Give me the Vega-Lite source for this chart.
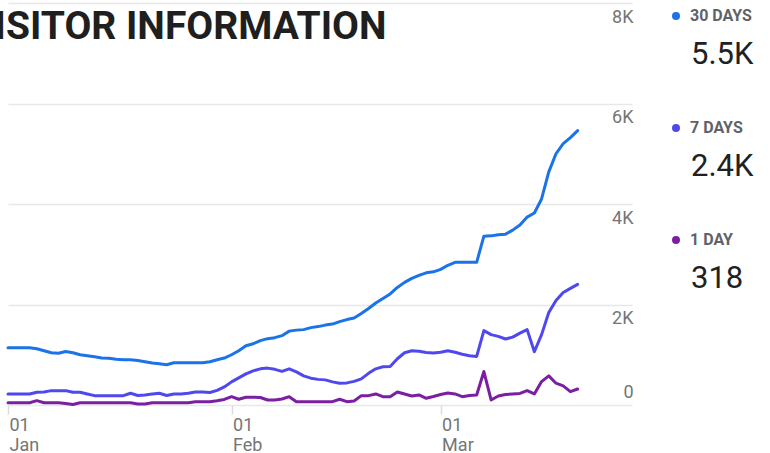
{
  "$schema": "https://vega.github.io/schema/vega-lite/v6.json",
  "width": 624,
  "height": 402,
  "autosize": {"type": "none"},
  "padding": {"left": 8, "top": 3, "right": 138, "bottom": 48},
  "background": "white",
  "config": {"view": {"stroke": null}, "font": "Roboto"},
  "title": {
    "text": "VISITOR INFORMATION",
    "anchor": "start",
    "frame": "group",
    "orient": "top",
    "baseline": "top",
    "offset": -44,
    "dx": -39,
    "font": "Roboto",
    "fontWeight": "bold",
    "fontSize": 39,
    "color": "#1f1f1f"
  },
  "data": {"values": [
    {"date": "2020-01-01", "30 DAYS": 1140, "7 DAYS": 220, "1 DAY": 46},
    {"date": "2020-01-02", "30 DAYS": 1140, "7 DAYS": 220, "1 DAY": 46},
    {"date": "2020-01-03", "30 DAYS": 1140, "7 DAYS": 220, "1 DAY": 46},
    {"date": "2020-01-04", "30 DAYS": 1140, "7 DAYS": 220, "1 DAY": 46},
    {"date": "2020-01-05", "30 DAYS": 1120, "7 DAYS": 254, "1 DAY": 86},
    {"date": "2020-01-06", "30 DAYS": 1080, "7 DAYS": 260, "1 DAY": 46},
    {"date": "2020-01-07", "30 DAYS": 1040, "7 DAYS": 286, "1 DAY": 46},
    {"date": "2020-01-08", "30 DAYS": 1030, "7 DAYS": 286, "1 DAY": 46},
    {"date": "2020-01-09", "30 DAYS": 1066, "7 DAYS": 286, "1 DAY": 30},
    {"date": "2020-01-10", "30 DAYS": 1040, "7 DAYS": 254, "1 DAY": 10},
    {"date": "2020-01-11", "30 DAYS": 1000, "7 DAYS": 254, "1 DAY": 46},
    {"date": "2020-01-12", "30 DAYS": 980, "7 DAYS": 220, "1 DAY": 46},
    {"date": "2020-01-13", "30 DAYS": 960, "7 DAYS": 186, "1 DAY": 46},
    {"date": "2020-01-14", "30 DAYS": 934, "7 DAYS": 186, "1 DAY": 46},
    {"date": "2020-01-15", "30 DAYS": 930, "7 DAYS": 186, "1 DAY": 46},
    {"date": "2020-01-16", "30 DAYS": 910, "7 DAYS": 186, "1 DAY": 46},
    {"date": "2020-01-17", "30 DAYS": 900, "7 DAYS": 186, "1 DAY": 46},
    {"date": "2020-01-18", "30 DAYS": 900, "7 DAYS": 234, "1 DAY": 46},
    {"date": "2020-01-19", "30 DAYS": 886, "7 DAYS": 190, "1 DAY": 20},
    {"date": "2020-01-20", "30 DAYS": 860, "7 DAYS": 200, "1 DAY": 20},
    {"date": "2020-01-21", "30 DAYS": 834, "7 DAYS": 220, "1 DAY": 46},
    {"date": "2020-01-22", "30 DAYS": 820, "7 DAYS": 234, "1 DAY": 46},
    {"date": "2020-01-23", "30 DAYS": 800, "7 DAYS": 190, "1 DAY": 46},
    {"date": "2020-01-24", "30 DAYS": 840, "7 DAYS": 220, "1 DAY": 46},
    {"date": "2020-01-25", "30 DAYS": 840, "7 DAYS": 220, "1 DAY": 46},
    {"date": "2020-01-26", "30 DAYS": 840, "7 DAYS": 234, "1 DAY": 46},
    {"date": "2020-01-27", "30 DAYS": 840, "7 DAYS": 260, "1 DAY": 66},
    {"date": "2020-01-28", "30 DAYS": 840, "7 DAYS": 260, "1 DAY": 66},
    {"date": "2020-01-29", "30 DAYS": 860, "7 DAYS": 250, "1 DAY": 66},
    {"date": "2020-01-30", "30 DAYS": 900, "7 DAYS": 290, "1 DAY": 86},
    {"date": "2020-01-31", "30 DAYS": 934, "7 DAYS": 360, "1 DAY": 110},
    {"date": "2020-02-01", "30 DAYS": 1000, "7 DAYS": 460, "1 DAY": 166},
    {"date": "2020-02-02", "30 DAYS": 1080, "7 DAYS": 540, "1 DAY": 114},
    {"date": "2020-02-03", "30 DAYS": 1180, "7 DAYS": 620, "1 DAY": 154},
    {"date": "2020-02-04", "30 DAYS": 1220, "7 DAYS": 680, "1 DAY": 154},
    {"date": "2020-02-05", "30 DAYS": 1280, "7 DAYS": 720, "1 DAY": 150},
    {"date": "2020-02-06", "30 DAYS": 1320, "7 DAYS": 734, "1 DAY": 100},
    {"date": "2020-02-07", "30 DAYS": 1340, "7 DAYS": 710, "1 DAY": 100},
    {"date": "2020-02-08", "30 DAYS": 1380, "7 DAYS": 670, "1 DAY": 120},
    {"date": "2020-02-09", "30 DAYS": 1470, "7 DAYS": 720, "1 DAY": 166},
    {"date": "2020-02-10", "30 DAYS": 1490, "7 DAYS": 660, "1 DAY": 66},
    {"date": "2020-02-11", "30 DAYS": 1500, "7 DAYS": 580, "1 DAY": 66},
    {"date": "2020-02-12", "30 DAYS": 1540, "7 DAYS": 534, "1 DAY": 66},
    {"date": "2020-02-13", "30 DAYS": 1560, "7 DAYS": 510, "1 DAY": 66},
    {"date": "2020-02-14", "30 DAYS": 1590, "7 DAYS": 500, "1 DAY": 66},
    {"date": "2020-02-15", "30 DAYS": 1610, "7 DAYS": 460, "1 DAY": 66},
    {"date": "2020-02-16", "30 DAYS": 1660, "7 DAYS": 434, "1 DAY": 114},
    {"date": "2020-02-17", "30 DAYS": 1700, "7 DAYS": 440, "1 DAY": 66},
    {"date": "2020-02-18", "30 DAYS": 1730, "7 DAYS": 470, "1 DAY": 80},
    {"date": "2020-02-19", "30 DAYS": 1820, "7 DAYS": 520, "1 DAY": 186},
    {"date": "2020-02-20", "30 DAYS": 1920, "7 DAYS": 630, "1 DAY": 186},
    {"date": "2020-02-21", "30 DAYS": 2030, "7 DAYS": 720, "1 DAY": 220},
    {"date": "2020-02-22", "30 DAYS": 2120, "7 DAYS": 760, "1 DAY": 166},
    {"date": "2020-02-23", "30 DAYS": 2210, "7 DAYS": 766, "1 DAY": 166},
    {"date": "2020-02-24", "30 DAYS": 2340, "7 DAYS": 920, "1 DAY": 260},
    {"date": "2020-02-25", "30 DAYS": 2440, "7 DAYS": 1040, "1 DAY": 220},
    {"date": "2020-02-26", "30 DAYS": 2520, "7 DAYS": 1080, "1 DAY": 180},
    {"date": "2020-02-27", "30 DAYS": 2580, "7 DAYS": 1070, "1 DAY": 200},
    {"date": "2020-02-28", "30 DAYS": 2630, "7 DAYS": 1046, "1 DAY": 134},
    {"date": "2020-02-29", "30 DAYS": 2650, "7 DAYS": 1034, "1 DAY": 170},
    {"date": "2020-03-01", "30 DAYS": 2700, "7 DAYS": 1050, "1 DAY": 210},
    {"date": "2020-03-02", "30 DAYS": 2780, "7 DAYS": 1080, "1 DAY": 240},
    {"date": "2020-03-03", "30 DAYS": 2840, "7 DAYS": 1050, "1 DAY": 220},
    {"date": "2020-03-04", "30 DAYS": 2840, "7 DAYS": 1010, "1 DAY": 166},
    {"date": "2020-03-05", "30 DAYS": 2840, "7 DAYS": 980, "1 DAY": 190},
    {"date": "2020-03-06", "30 DAYS": 2840, "7 DAYS": 966, "1 DAY": 200},
    {"date": "2020-03-07", "30 DAYS": 3360, "7 DAYS": 1480, "1 DAY": 666},
    {"date": "2020-03-08", "30 DAYS": 3366, "7 DAYS": 1400, "1 DAY": 100},
    {"date": "2020-03-09", "30 DAYS": 3390, "7 DAYS": 1366, "1 DAY": 180},
    {"date": "2020-03-10", "30 DAYS": 3400, "7 DAYS": 1314, "1 DAY": 210},
    {"date": "2020-03-11", "30 DAYS": 3480, "7 DAYS": 1350, "1 DAY": 220},
    {"date": "2020-03-12", "30 DAYS": 3580, "7 DAYS": 1430, "1 DAY": 230},
    {"date": "2020-03-13", "30 DAYS": 3740, "7 DAYS": 1500, "1 DAY": 286},
    {"date": "2020-03-14", "30 DAYS": 3820, "7 DAYS": 1060, "1 DAY": 220},
    {"date": "2020-03-15", "30 DAYS": 4100, "7 DAYS": 1400, "1 DAY": 466},
    {"date": "2020-03-16", "30 DAYS": 4640, "7 DAYS": 1840, "1 DAY": 580},
    {"date": "2020-03-17", "30 DAYS": 5000, "7 DAYS": 2080, "1 DAY": 434},
    {"date": "2020-03-18", "30 DAYS": 5200, "7 DAYS": 2240, "1 DAY": 380},
    {"date": "2020-03-19", "30 DAYS": 5320, "7 DAYS": 2320, "1 DAY": 266},
    {"date": "2020-03-20", "30 DAYS": 5460, "7 DAYS": 2400, "1 DAY": 318}
  ]},
  "transform": [
    {"fold": ["30 DAYS", "7 DAYS", "1 DAY"], "as": ["series", "value"]},
    {"lookup": "series", "from": {"data": {"values": [
      {"series": "30 DAYS", "latest": "5.5K"},
      {"series": "7 DAYS", "latest": "2.4K"},
      {"series": "1 DAY", "latest": "318"}
    ]}, "key": "series", "fields": ["latest"]}}
  ],
  "mark": {"type": "line", "strokeWidth": 3, "strokeJoin": "round", "strokeCap": "round"},
  "encoding": {
    "x": {
      "field": "date",
      "type": "temporal",
      "scale": {"type": "utc", "domain": [
        {"year": 2020, "month": 1, "date": 1, "utc": true},
        {"year": 2020, "month": 3, "date": 27, "hours": 13, "utc": true}
      ]},
      "axis": {
        "title": null,
        "values": [
          {"year": 2020, "month": 1, "date": 1, "utc": true},
          {"year": 2020, "month": 2, "date": 1, "utc": true},
          {"year": 2020, "month": 3, "date": 1, "utc": true}
        ],
        "grid": false,
        "domain": false,
        "ticks": true,
        "tickColor": "#dadce0",
        "tickSize": 9,
        "tickWidth": 1.5,
        "labelAlign": "left",
        "labelBaseline": "top",
        "labelPadding": 2,
        "labelOffset": 1,
        "labelFlush": false,
        "labelOverlap": false,
        "labelExpr": "[utcFormat(datum.value, '%d'), utcFormat(datum.value, '%b')]",
        "labelFont": "Roboto",
        "labelFontSize": 18,
        "labelLineHeight": 20,
        "labelColor": "#757575"
      }
    },
    "y": {
      "field": "value",
      "type": "quantitative",
      "scale": {"domain": [0, 8000], "nice": false},
      "axis": {
        "title": null,
        "orient": "right",
        "values": [0, 2000, 4000, 6000, 8000],
        "grid": true,
        "gridColor": "#e8e8e8",
        "gridWidth": 1.5,
        "domain": false,
        "ticks": false,
        "tickSize": 0,
        "labelAlign": "right",
        "labelPadding": 1,
        "labelBaseline": {"condition": {"test": "datum.value == 0", "value": "alphabetic"}, "value": "top"},
        "labelOffset": {"condition": {"test": "datum.value == 0", "value": -8}, "value": 5},
        "labelExpr": "datum.value == 0 ? '0' : (datum.value / 1000) + 'K'",
        "labelFont": "Roboto",
        "labelFontSize": 18,
        "labelColor": "#757575",
        "labelFlush": false,
        "labelOverlap": false
      }
    },
    "color": {
      "field": "series",
      "type": "nominal",
      "scale": {"domain": ["30 DAYS", "7 DAYS", "1 DAY"], "range": ["#1a73e8", "#4f48ee", "#7b1fa2"]},
      "legend": {
        "orient": "none",
        "legendX": 660,
        "legendY": 5,
        "title": null,
        "padding": 0,
        "symbolType": "circle",
        "symbolSize": 16,
        "symbolStrokeWidth": 4,
        "labelFont": "Roboto",
        "labelFontSize": 16,
        "labelFontWeight": "bold",
        "labelColor": "#5f6368",
        "labelOffset": 6,
        "rowPadding": 92
      }
    },
    "strokeDash": {
      "field": "latest",
      "type": "nominal",
      "scale": {"domain": ["5.5K", "2.4K", "318"], "range": [[1000, 0], [1000, 0], [1000, 0]]},
      "legend": {
        "orient": "none",
        "legendX": 648,
        "legendY": 36,
        "title": null,
        "padding": 0,
        "symbolOpacity": 0,
        "symbolSize": 1,
        "symbolStrokeWidth": 0,
        "labelFont": "Roboto",
        "labelFontSize": 31,
        "labelColor": "#202124",
        "labelOffset": 4,
        "rowPadding": 80
      }
    }
  }
}
